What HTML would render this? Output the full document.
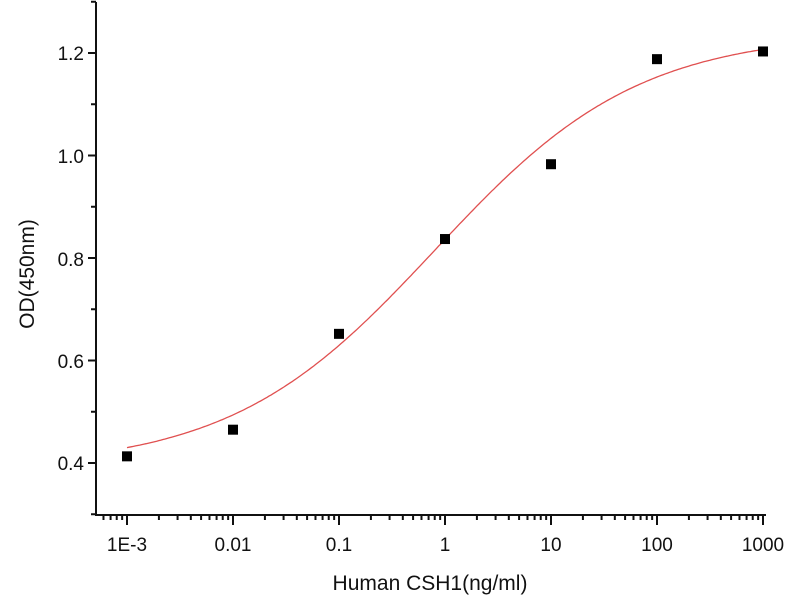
<!DOCTYPE html>
<html><head><meta charset="utf-8"><style>
body{margin:0;background:#fff;width:800px;height:600px;overflow:hidden}
text{font-family:"Liberation Sans",sans-serif;fill:#111}
</style></head><body>
<svg id="s" width="800" height="600" viewBox="0 0 800 600" xmlns="http://www.w3.org/2000/svg">
<g id="ax" stroke="#111" stroke-width="2" fill="none">
<line x1="96" y1="2" x2="96" y2="516"/>
<line x1="95" y1="515" x2="766" y2="515"/>
</g>
<g font-size="19" text-anchor="end">
<text x="84" y="60">1.2</text>
<text x="84" y="163">1.0</text>
<text x="84" y="266">0.8</text>
<text x="84" y="368">0.6</text>
<text x="84" y="470">0.4</text>
</g>
<g font-size="19" text-anchor="middle">
<text x="127" y="551">1E-3</text>
<text x="233" y="551">0.01</text>
<text x="339" y="551">0.1</text>
<text x="445" y="551">1</text>
<text x="551" y="551">10</text>
<text x="657" y="551">100</text>
<text x="763" y="551">1000</text>
</g>
<text x="430" y="590" font-size="21" text-anchor="middle">Human CSH1(ng/ml)</text>
<text transform="translate(34,274) rotate(-90)" font-size="21" text-anchor="middle">OD(450nm)</text>
<path id="c" stroke="#e05050" stroke-width="1.3" fill="none"/>
<g id="pts" fill="#000"></g>
</svg>
<script>
var ns="http://www.w3.org/2000/svg",ax=document.getElementById('ax');
function X(l){return 127+(l+3)*106}
function Y(v){return 463-(v-0.4)*512.5}
function ln(a,b,c,d){var e=document.createElementNS(ns,'line');e.setAttribute('x1',a);e.setAttribute('y1',b);e.setAttribute('x2',c);e.setAttribute('y2',d);ax.appendChild(e)}
for(var v=0.3;v<=1.31;v+=0.1){var y=Y(v);var maj=Math.round(v*10)%2==0;ln(96,y,maj?88:91,y)}
for(var d=-4;d<=3;d++){for(var k=1;k<10;k++){var l=d+Math.log10(k);var x=X(l);if(x<96||x>766)continue;ln(x,515,x,k==1?525:520)}}
var p="";for(var i=0;i<=300;i++){var l=-3+6*i/300,x=Math.pow(10,l);var v=1.24-0.85/(1+Math.pow(x/0.8,0.45));p+=(i?"L":"M")+X(l).toFixed(1)+","+Y(v).toFixed(1)}
document.getElementById('c').setAttribute('d',p);
var d=[0.413,0.465,0.652,0.837,0.983,1.188,1.203],g=document.getElementById('pts');
d.forEach(function(v,i){var r=document.createElementNS(ns,'rect');r.setAttribute('x',X(i-3)-5);r.setAttribute('y',Y(v)-5);r.setAttribute('width',10);r.setAttribute('height',10);g.appendChild(r)});
</script>
</body></html>
